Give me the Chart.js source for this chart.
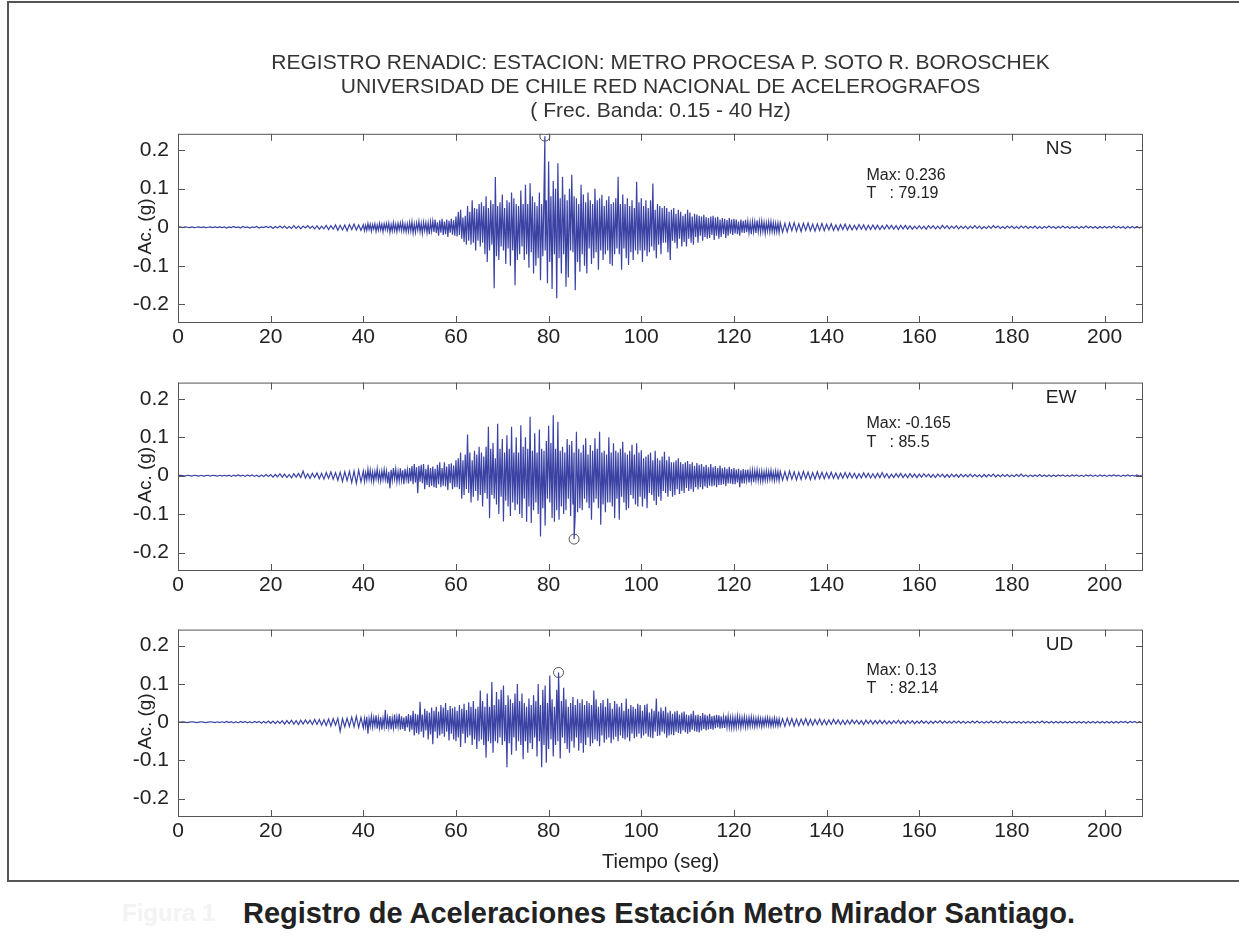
<!DOCTYPE html>
<html>
<head>
<meta charset="utf-8">
<script src="https://cdn.jsdelivr.net/npm/chart.js@4.4.1/dist/chart.umd.min.js"></script>
<style>
  body { margin: 0; background: #fff; width: 1239px; height: 941px; overflow: hidden; position: relative;
         font-family: "Liberation Sans", Arial, sans-serif; }
  .frame { position: absolute; left: 7px; top: 1px; width: 1232px; height: 877px;
           border-left: 2px solid #555; border-top: 2px solid #555; border-bottom: 2px solid #555; }
  .panel { position: absolute; left: 0; }
  .caption { position: absolute; left: 243px; top: 897px; font-weight: bold; font-size: 29px; color: #222; white-space: nowrap; }
  .ghost { position: absolute; left: 122px; top: 899px; font-weight: bold; font-size: 24px; color: #f3f3f3; white-space: nowrap; }
</style>
</head>
<body>
<div class="frame"></div>
<div class="panel" style="top:0px"><canvas id="ns" width="1239" height="363"></canvas></div>
<div class="panel" style="top:361px"><canvas id="ew" width="1239" height="250"></canvas></div>
<div class="panel" style="top:608px"><canvas id="ud" width="1239" height="266"></canvas></div>
<div class="ghost">Figura 1</div>
<div class="caption">Registro de Aceleraciones Estación Metro Mirador Santiago.</div>
<script>
// acceleration, in thousandths of g
// early part 0-40 s and late part 130-208 s sampled every 0.5 s,
// strong motion 40-130 s sampled every 0.25 s
const earlyStart = 0, earlyStep = 0.5;
const strongStart = 40, strongStep = 0.25;
const lateStart = 130, lateStep = 0.5;

const nsEarly = [
  0,1,-1,1,0,-1,1,-1,0,1,-1,1,-1,0,1,-1,1,-1,1,-1,
  1,-2,1,-1,2,-1,1,-2,2,-1,1,-2,1,-1,2,-2,1,-1,2,-1,
  2,-3,2,-2,3,-2,3,-3,2,-3,4,-3,3,-4,3,-2,4,-3,3,-4,
  4,-5,3,-4,5,-6,4,-5,6,-8,5,-7,6,-9,7,-6,8,-7,6,-8
];
const nsStrong = [
  7,-9,5,-8,10,-6,8,-10,7,-5,9,-11,6,-8,10,-7,8,-12,9,-6,
  10,-8,11,-13,7,-10,12,-9,8,-12,10,-7,11,-9,13,-10,8,-12,9,-11,
  12,-10,14,-15,9,-13,11,-8,15,-12,10,-16,13,-9,12,-14,11,-18,14,-10,
  16,-12,20,-15,13,-22,18,-14,22,-20,15,-18,20,-25,17,-14,22,-19,18,-22,
  28,-24,40,-20,45,-30,25,-38,30,-45,55,-35,40,-45,70,-40,50,-60,48,-35,
  60,-50,65,-40,55,-70,80,-90,50,-60,70,-45,60,-158,130,-75,55,-85,65,-50,
  85,-60,50,-95,70,-55,65,-100,90,-60,75,-150,60,-85,55,-70,95,-50,60,-85,
  110,-70,60,-105,114,-65,80,-120,65,-100,55,-80,90,-137,60,-75,90,-60,70,-145,
  170,-90,80,-160,120,-70,100,-184,166,-80,75,-120,131,-70,85,-154,70,-130,100,-60,
  136,-65,80,-163,75,-90,60,-115,110,-70,85,-100,65,-120,90,-55,70,-95,60,-80,
  100,-65,70,-110,75,-60,84,-85,55,-70,70,-60,80,-95,60,-100,65,-70,75,-55,
  131,-70,60,-110,85,-55,60,-80,75,-98,55,-65,70,-85,50,-60,118,-70,65,-60,
  75,-90,55,-60,70,-75,50,-65,70,-50,113,-60,45,-80,60,-45,55,-70,50,-40,
  55,-40,50,-65,40,-85,45,-35,50,-40,35,-55,45,-30,40,-50,30,-38,35,-50,
  45,-30,38,-40,28,-45,35,-25,33,-40,30,-22,28,-35,32,-25,26,-30,24,-28,
  28,-20,30,-33,25,-22,27,-30,20,-25,24,-18,22,-28,19,-22,24,-17,20,-20,
  22,-16,20,-18,15,-22,20,-14,17,-15,19,-13,16,-14,12,-18,15,-12,14,-15,
  18,-12,15,-13,16,-11,13,-16,12,-10,14,-12,15,-11,12,-13,10,-12,11,-14
];
const nsLate = [
  12,-13,10,-12,11,-9,12,-10,9,-11,10,-8,11,-9,8,-10,9,-8,10,-9,
  8,-7,9,-8,6,-8,7,-6,8,-7,6,-7,5,-6,7,-5,6,-7,5,-6,
  6,-5,5,-6,4,-5,6,-4,5,-5,4,-6,5,-4,5,-5,4,-5,3,-4,
  4,-4,3,-5,4,-3,4,-4,3,-4,5,-3,4,-4,3,-3,4,-4,3,-3,
  3,-4,3,-3,4,-3,3,-4,2,-3,3,-3,4,-2,3,-3,2,-3,3,-2,
  3,-3,2,-3,3,-2,3,-3,2,-2,3,-3,2,-3,2,-2,3,-2,2,-3,
  2,-2,3,-2,2,-3,2,-2,2,-3,2,-2,3,-2,2,-2,2,-3,2,-2,
  2,-2,2,-2,3,-2,2,-2,2,-3,2,-2,2,-2,2,-2,1
];

const ewEarly = [
  0,1,0,-1,1,0,-1,1,0,-1,1,-1,0,1,-1,1,0,-1,1,-1,
  1,-1,1,-2,1,-1,2,-1,1,-2,2,-1,2,-2,1,-3,2,-2,3,-2,
  3,-4,3,-3,5,-4,4,-5,3,-6,5,-4,6,-5,12,-6,5,-7,6,-5,
  7,-8,6,-9,8,-7,10,-9,8,-12,9,-15,10,-13,11,-18,12,-20,14,-16
];
const ewStrong = [
  12,-15,8,-11,17,-9,14,-13,10,-16,11,-8,18,-12,9,-14,12,-10,16,-11,
  12,-20,10,-33,15,-12,20,-9,17,-16,11,-14,19,-12,14,-22,18,-10,15,-20,
  20,-15,25,-22,30,-18,22,-46,25,-16,28,-20,30,-35,18,-24,28,-30,20,-26,
  24,-30,18,-32,28,-22,35,-30,20,-26,35,-28,24,-38,30,-20,32,-35,26,-30,
  40,-30,45,-35,60,-60,40,-50,55,-35,107,-45,60,-70,40,-55,65,-40,55,-65,
  75,-50,60,-80,50,-45,75,-60,127,-110,70,-50,85,-60,45,-75,135,-100,70,-55,
  95,-119,60,-65,105,-80,70,-105,127,-70,60,-90,100,-75,60,-100,131,-110,75,-60,
  100,-120,70,-80,153,-123,65,-90,110,-70,60,-100,120,-158,70,-85,65,-130,90,-60,
  130,-70,85,-110,157,-120,70,-90,140,-115,65,-80,75,-100,60,-90,95,-60,80,-105,
  90,-75,60,-100,114,-95,70,-85,60,-90,80,-60,97,-70,55,-85,80,-115,65,-70,
  97,-60,70,-85,114,-128,60,-75,65,-95,55,-70,100,-70,60,-80,84,-110,65,-60,
  60,-115,70,-55,88,-70,60,-90,55,-85,65,-50,80,-60,55,-75,84,-80,60,-55,
  66,-80,45,-60,50,-85,55,-45,60,-50,40,-65,65,-76,45,-55,40,-65,50,-40,
  62,-45,40,-55,50,-40,35,-55,35,-50,40,-35,45,-48,35,-40,30,-45,35,-32,
  38,-40,30,-35,35,-42,25,-30,33,-36,28,-30,30,-35,24,-28,28,-32,22,-26,
  30,-28,22,-26,25,-30,20,-24,26,-24,19,-22,22,-27,18,-20,23,-20,17,-22,
  20,-22,16,-18,18,-30,14,-20,17,-20,15,-13,16,-18,12,-15,14,-17,13,-12,
  15,-13,11,-14,12,-15,10,-12,13,-12,11,-10,14,-11,9,-13,12,-10,11,-13
];
const ewLate = [
  11,-12,10,-11,12,-9,10,-11,9,-10,11,-8,9,-10,8,-9,10,-8,9,-8,
  8,-7,9,-7,7,-8,6,-7,8,-6,7,-6,6,-7,5,-6,7,-5,6,-6,
  5,-6,6,-5,8,-5,5,-6,4,-5,5,-4,6,-5,4,-5,5,-4,4,-5,
  4,-4,5,-3,4,-4,3,-5,4,-3,4,-4,3,-4,4,-3,3,-4,4,-3,
  3,-3,4,-3,3,-3,2,-4,3,-3,3,-2,4,-3,2,-3,3,-2,3,-3,
  2,-2,3,-2,4,-2,2,-3,2,-2,2,-2,3,-2,2,-2,2,-2,2,-2,
  2,-1,2,-2,1,-2,2,-1,2,-2,1,-2,2,-1,2,-2,1,-2,2,-1,
  1,-2,1,-1,2,-1,1,-2,1,-1,2,-1,1,-1,2,-1,1
];

const udEarly = [
  0,0,1,0,-1,0,1,0,-1,0,1,0,-1,0,1,0,-1,1,-1,1,
  -1,2,-1,1,-2,1,-2,2,-1,2,-2,1,-2,2,-1,2,-3,2,-2,3,
  -3,3,-4,3,-3,4,-5,4,-4,5,-5,4,-6,5,-5,6,-4,5,-6,7,
  -6,7,-8,6,-9,8,-10,9,-8,10,-24,9,-12,10,-11,13,-12,15,-14,12
];
const udStrong = [
  -15,10,-12,14,-30,9,-11,16,-13,12,-10,18,-17,11,-15,13,-20,10,-12,32,
  -18,12,-14,16,-19,10,-15,20,-17,13,-12,22,-20,15,-18,12,-23,16,-14,21,
  -25,18,-20,30,-35,22,-28,20,-32,53,-25,20,-40,35,-22,30,-45,25,-32,38,
  -58,30,-25,40,-42,28,-35,45,-30,38,-38,50,-25,32,-48,42,-30,36,-45,40,
  -50,30,-40,45,-65,35,-30,48,-55,32,-40,52,-35,40,-60,55,-45,35,-70,40,
  -50,83,-45,55,-60,40,-93,75,-50,40,-55,105,-80,45,-50,79,-55,60,-40,85,
  -60,96,-50,45,-118,70,-55,60,-85,50,-40,75,-75,100,-50,55,-60,75,-97,50,
  -50,40,-80,62,-55,45,-70,70,-40,55,-90,100,-50,45,-118,85,-60,96,-106,50,
  -70,122,-45,60,-90,40,-60,85,-50,80,-95,55,-40,90,-55,60,-70,40,-80,50,
  -50,66,-67,45,-40,60,-75,50,-55,60,-80,45,-60,55,-40,50,-63,45,-55,83,
  -45,60,-50,40,-63,50,-35,58,-54,40,-45,62,-40,50,-55,35,-45,55,-38,48,
  -50,40,-35,50,-42,30,-45,62,-40,35,-50,45,-30,40,-42,35,-38,48,-30,45,
  -42,30,-35,45,-30,48,-38,25,-40,35,-42,30,-25,62,-36,28,-35,38,-25,30,
  -30,40,-41,25,-35,30,-32,22,-34,28,-25,30,-28,20,-30,25,-22,28,-26,20,
  -30,18,-26,22,-20,30,-24,18,-25,20,-27,16,-22,24,-18,20,-22,17,-19,22,
  -18,15,-20,17,-16,19,-14,18,-17,15,-16,14,-15,17,-13,16,-14,12,-15,13,
  -15,12,-14,16,-11,13,-15,12,-10,14,-13,11,-12,12,-11,14,-10,11,-12,10,
  -11,12,-9,10,-12,9,-10,11,-8,12,-9,10,-11,8,-10,11,-9,8,-10,9
];
const udLate = [
  -10,9,-11,10,-8,9,-10,8,-9,8,-7,9,-8,7,-8,7,-6,8,-7,6,
  -7,6,-6,7,-5,6,-6,5,-6,5,-5,6,-4,5,-5,4,-6,5,-4,5,
  -5,4,-4,5,-4,4,-5,3,-4,4,-3,5,-4,3,-4,4,-3,4,-4,3,
  -3,4,-3,3,-4,3,-3,3,-2,4,-3,3,-3,2,-3,3,-2,3,-3,2,
  -3,2,-2,3,-2,3,-2,2,-3,2,-2,3,-2,2,-2,3,-2,2,-2,2,
  -2,2,-2,2,-3,2,-2,2,-2,2,-2,2,-2,3,-2,2,-2,2,-2,2,
  -2,2,-2,2,-2,2,-2,2,-2,2,-2,2,-3,2,-2,2,-2,2,-2,2,
  -2,2,-2,2,-2,2,-2,2,-1,2,-2,2,-1,2,-2,1,-1
];

const componentNames = ['NS', 'EW', 'UD'];
const peakTimes = [79.19, 85.5, 82.14];
const peakValues = [0.236, -0.165, 0.13];

const xTickValues = [0, 20, 40, 60, 80, 100, 120, 140, 160, 180, 200];
const xTickLabels = ['0', '20', '40', '60', '80', '100', '120', '140', '160', '180', '200'];
const yTickValues = [-0.2, -0.1, 0, 0.1, 0.2];
const yTickLabels = ['-0.2', '-0.1', '0', '0.1', '0.2'];

const titleLines = [
  'REGISTRO RENADIC: ESTACION: METRO PROCESA P. SOTO R. BOROSCHEK',
  'UNIVERSIDAD DE CHILE RED NACIONAL DE ACELEROGRAFOS',
  '( Frec. Banda: 0.15 - 40 Hz)'
];

const FONT = '"Liberation Sans", Arial, sans-serif';
const lineColor = '#3a42a4';

const panelDeco = {
  id: 'panelDeco',
  afterDraw(chart, args, opts) {
    const { ctx, chartArea: a, scales: { x, y } } = chart;
    ctx.save();
    ctx.strokeStyle = '#555';
    ctx.lineWidth = 1;
    ctx.strokeRect(a.left + 0.5, a.top + 0.5, a.right - a.left - 1, a.bottom - a.top - 1);
    ctx.beginPath();
    x.ticks.forEach(t => {
      const px = Math.round(x.getPixelForValue(t.value)) + 0.5;
      ctx.moveTo(px, a.bottom); ctx.lineTo(px, a.bottom - 7);
      ctx.moveTo(px, a.top); ctx.lineTo(px, a.top + 7);
    });
    y.ticks.forEach(t => {
      const py = Math.round(y.getPixelForValue(t.value)) + 0.5;
      ctx.moveTo(a.left, py); ctx.lineTo(a.left + 7, py);
      ctx.moveTo(a.right, py); ctx.lineTo(a.right - 7, py);
    });
    ctx.stroke();

    ctx.fillStyle = '#222';
    ctx.textBaseline = 'middle';
    ctx.textAlign = 'left';
    ctx.font = '19px ' + FONT;
    ctx.fillText(opts.name, x.getPixelForValue(187.3), y.getPixelForValue(0.203));
    ctx.font = '16px ' + FONT;
    ctx.fillText(opts.maxText, x.getPixelForValue(148.6), y.getPixelForValue(0.135));
    ctx.fillText(opts.timeText, x.getPixelForValue(148.6), y.getPixelForValue(0.087));

    ctx.translate(a.left - 32, (a.top + a.bottom) / 2 - 2);
    ctx.rotate(-Math.PI / 2);
    ctx.textAlign = 'center';
    ctx.font = '19px ' + FONT;
    ctx.fillText('Ac. (g)', 0, 0);
    ctx.restore();
  }
};

function buildPoints(early, strong, late, peakT, peakV) {
  const pts = [
    ...early.map((v, i) => ({ x: earlyStart + i * earlyStep, y: v / 1000 })),
    ...strong.map((v, i) => ({ x: strongStart + i * strongStep, y: v / 1000 })),
    ...late.map((v, i) => ({ x: lateStart + i * lateStep, y: v / 1000 }))
  ];
  const at = pts.findIndex(p => p.x > peakT);
  pts.splice(at, 0, { x: peakT, y: peakV });
  return pts;
}

function makePanel(canvasId, series, k, cfg) {
  new Chart(document.getElementById(canvasId), {
    type: 'line',
    data: {
      datasets: [
        {
          data: buildPoints(series[0], series[1], series[2], peakTimes[k], peakValues[k]),
          borderColor: lineColor,
          borderWidth: 1.2,
          pointRadius: 0,
          tension: 0
        },
        {
          data: [{ x: peakTimes[k], y: peakValues[k] }],
          showLine: false,
          pointRadius: 5,
          pointBorderWidth: 1,
          pointBorderColor: '#555',
          pointBackgroundColor: 'rgba(0,0,0,0)'
        }
      ]
    },
    options: {
      responsive: false,
      animation: false,
      events: [],
      layout: { padding: { top: cfg.padTop, right: 96, left: 0, bottom: 0 } },
      plugins: {
        legend: { display: false },
        tooltip: { enabled: false },
        title: cfg.title
          ? {
              display: true,
              text: titleLines,
              fullSize: false,
              color: '#333',
              font: { family: FONT, size: 21, weight: 'normal', lineHeight: 1.14 },
              padding: { top: 51, bottom: 11 }
            }
          : { display: false },
        panelDeco: {
          name: componentNames[k],
          maxText: 'Max: ' + peakValues[k],
          timeText: 'T   : ' + peakTimes[k]
        }
      },
      scales: {
        x: {
          type: 'linear',
          min: 0,
          max: 208.3,
          grid: { display: false, drawTicks: false },
          border: { display: false },
          afterBuildTicks: s => { s.ticks = xTickValues.map(v => ({ value: v })); },
          afterFit: s => { s.height = cfg.xHeight; },
          ticks: {
            autoSkip: false,
            maxRotation: 0,
            padding: 2,
            color: '#222',
            font: { family: FONT, size: 21 },
            callback: (v, i) => xTickLabels[i]
          },
          title: cfg.xTitle
            ? { display: true, text: 'Tiempo (seg)', color: '#222', font: { family: FONT, size: 20 }, padding: 0 }
            : { display: false }
        },
        y: {
          min: -0.248,
          max: 0.242,
          grid: { display: false, drawTicks: false },
          border: { display: false },
          afterBuildTicks: s => { s.ticks = yTickValues.map(v => ({ value: v })); },
          afterFit: s => { s.width = 178; },
          ticks: {
            padding: 9,
            color: '#222',
            font: { family: FONT, size: 21 },
            callback: (v, i) => yTickLabels[i]
          }
        }
      }
    },
    plugins: [panelDeco]
  });
}

makePanel('ns', [nsEarly, nsStrong, nsLate], 0, { padTop: 0, xHeight: 40, title: true });
makePanel('ew', [ewEarly, ewStrong, ewLate], 1, { padTop: 20, xHeight: 40 });
makePanel('ud', [udEarly, udStrong, udLate], 2, { padTop: 20, xHeight: 57, xTitle: true });
</script>
</body>
</html>
